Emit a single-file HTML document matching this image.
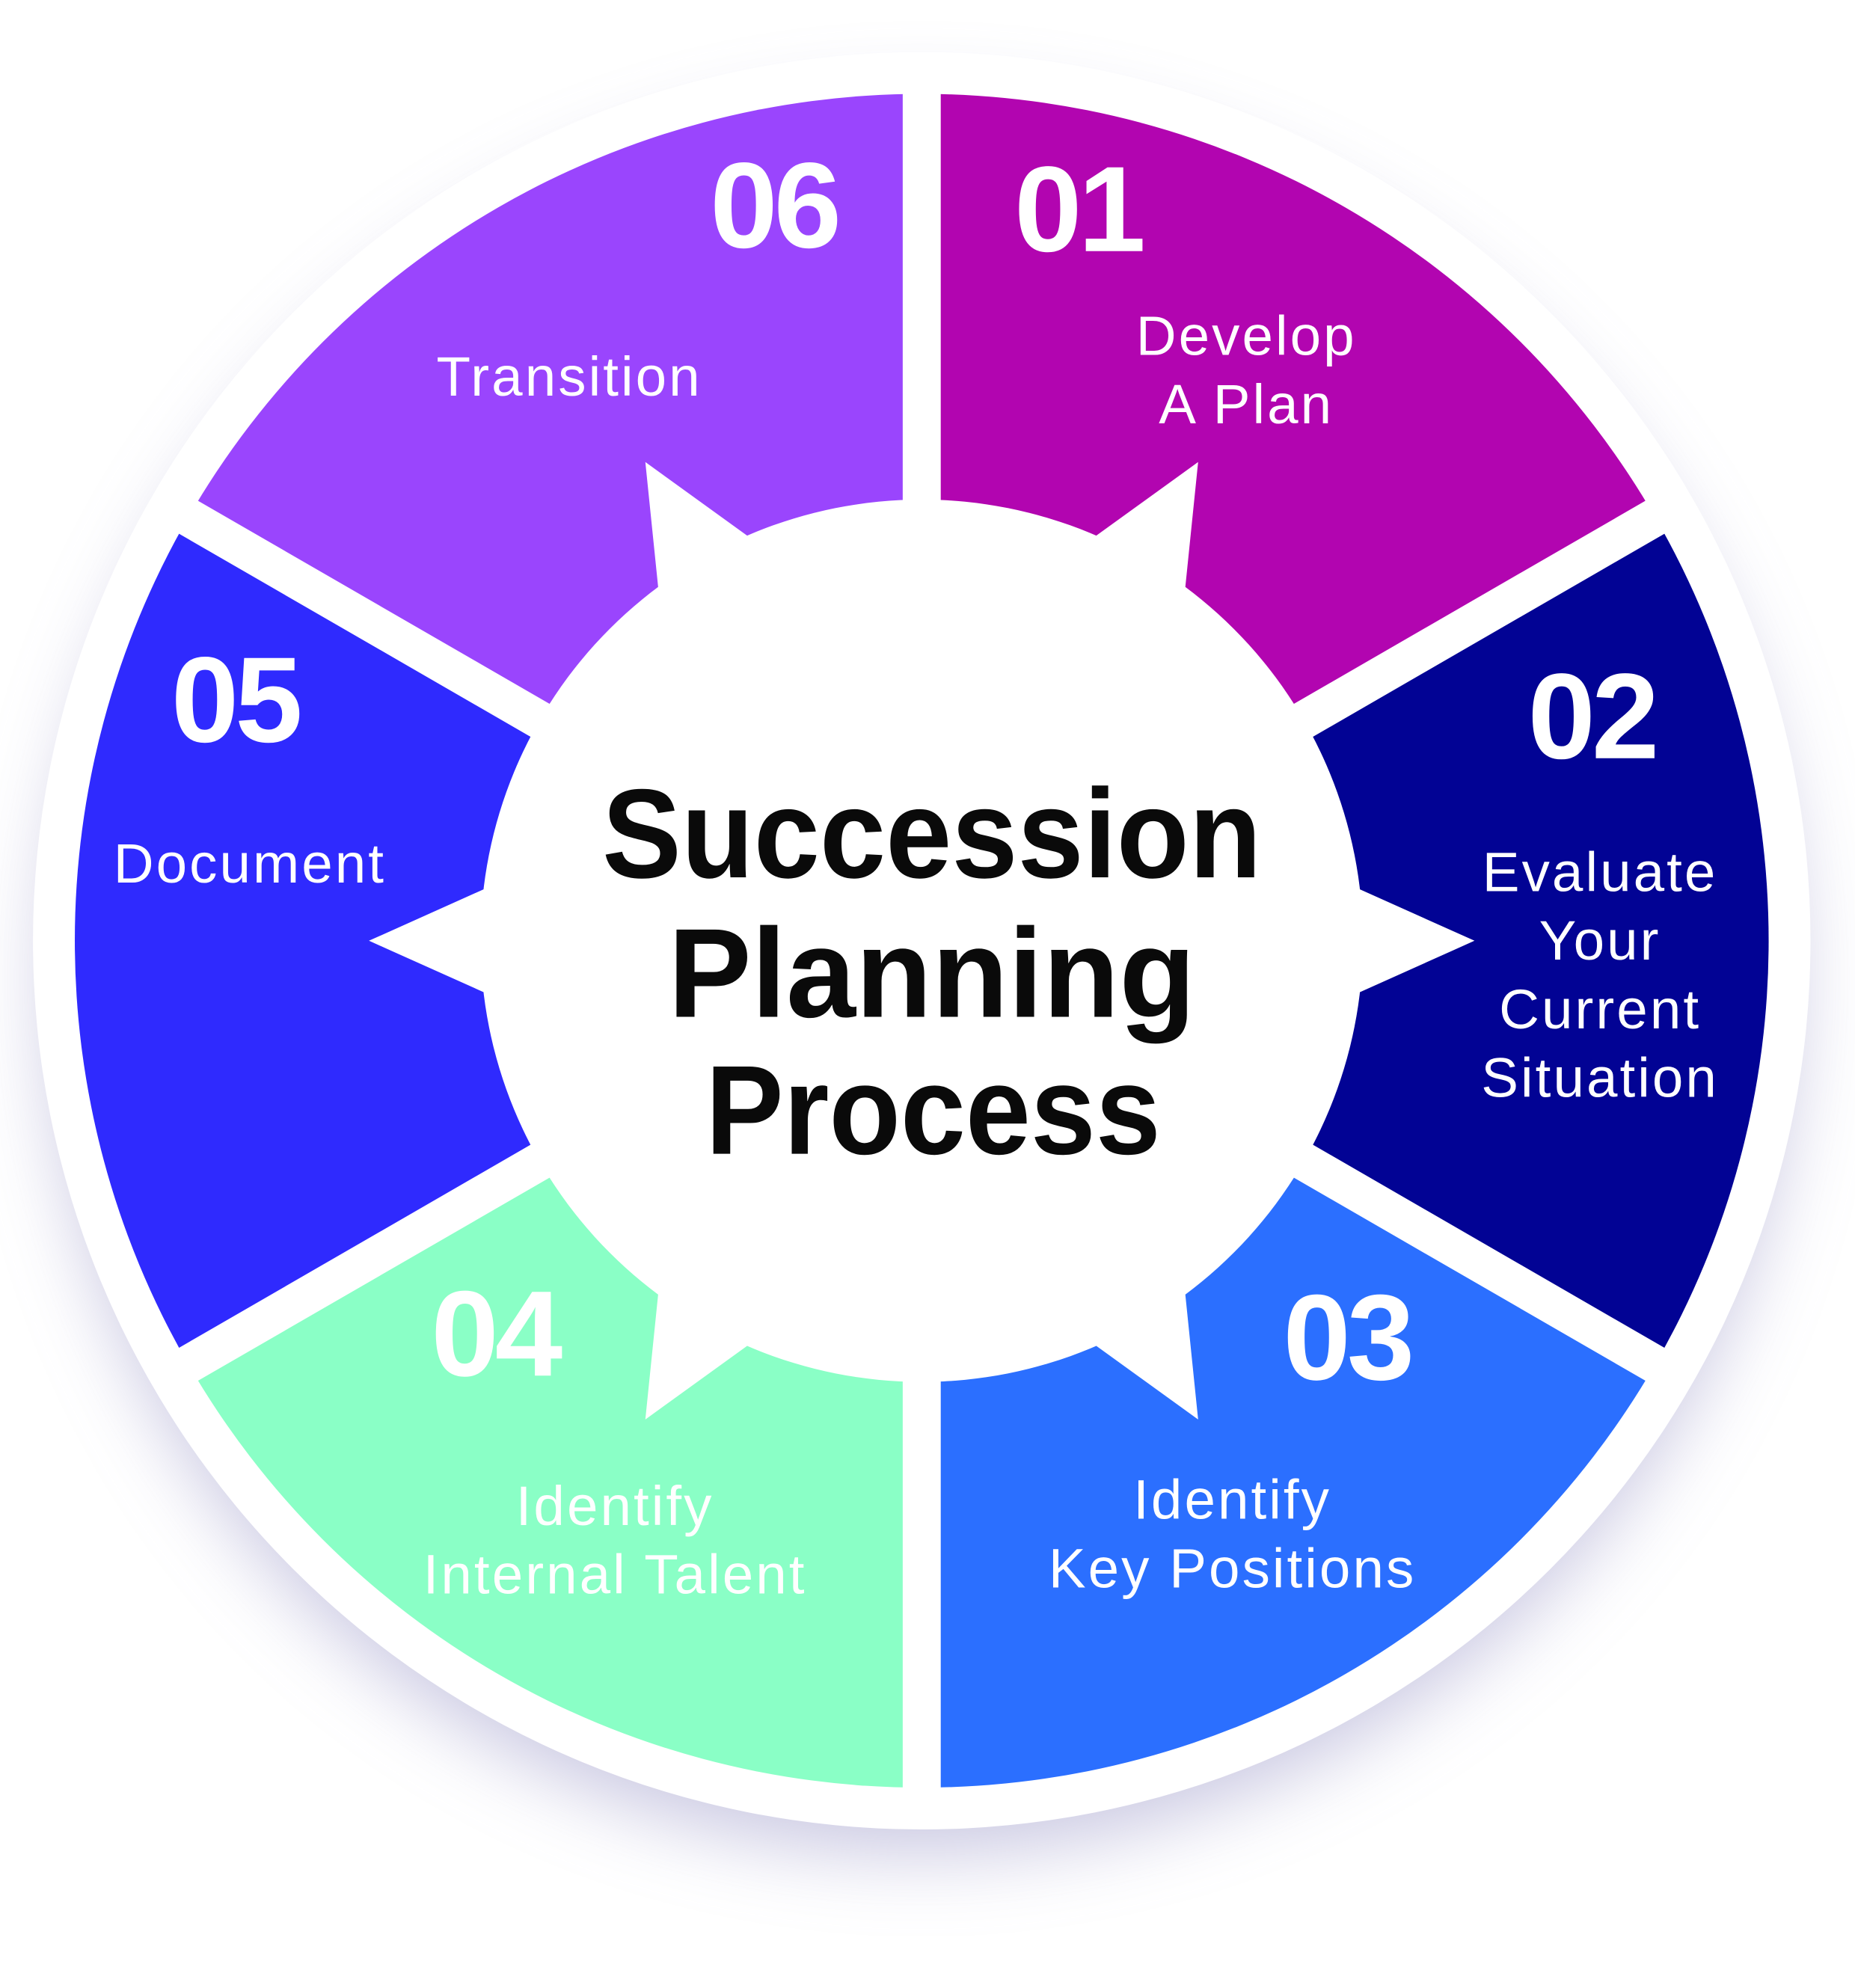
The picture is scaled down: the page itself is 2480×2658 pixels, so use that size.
<!DOCTYPE html>
<html><head><meta charset="utf-8"><style>
html,body{margin:0;padding:0;background:#fff;width:2480px;height:2658px;overflow:hidden}
svg{display:block}
.n{font-family:"Liberation Sans",sans-serif;font-weight:900;fill:#fff;font-size:96px;letter-spacing:-3px}
.l{font-family:"Liberation Sans",sans-serif;fill:#fff;font-size:44px;text-anchor:middle;letter-spacing:1.8px}
.t{font-family:"Liberation Sans",sans-serif;font-weight:900;fill:#0a0a0a;font-size:100px;text-anchor:middle}
</style></head><body>
<svg width="2480" height="2658" viewBox="0 0 1463.1 1568" xmlns="http://www.w3.org/2000/svg">
<defs>
<filter id="sh" x="-20%" y="-20%" width="140%" height="150%">
<feGaussianBlur stdDeviation="30"/>
</filter>
</defs>
<circle cx="727" cy="772" r="690" fill="#b8b6d8" opacity="0.75" filter="url(#sh)"/>
<circle cx="727" cy="742" r="701" fill="#fff"/>
<path d="M727,742 L727,74 A668,668 0 0 1 1305.5,408 Z" fill="#b205b0"/>
<path d="M727,742 L1305.5,408 A668,668 0 0 1 1305.5,1076 Z" fill="#020394"/>
<path d="M727,742 L1305.5,1076 A668,668 0 0 1 727,1410 Z" fill="#2b6fff"/>
<path d="M727,742 L727,1410 A668,668 0 0 1 148.5,1076 Z" fill="#8affc6"/>
<path d="M727,742 L148.5,1076 A668,668 0 0 1 148.5,408 Z" fill="#2f2afe"/>
<path d="M727,742 L148.5,408 A668,668 0 0 1 727,74 Z" fill="#9a45fd"/>
<g stroke="#fff" stroke-width="30">
<line x1="727" y1="50" x2="727" y2="1434"/>
<line x1="1326" y1="396" x2="128" y2="1088"/>
<line x1="1326" y1="1088" x2="128" y2="396"/>
</g>
<g fill="#fff">
<circle cx="727" cy="742" r="348"/>
<polygon points="1052.6,692.5 1163,742 1052.6,791.5"/>
<polygon points="1052.6,692.5 1163,742 1052.6,791.5" transform="rotate(60 727 742)"/>
<polygon points="1052.6,692.5 1163,742 1052.6,791.5" transform="rotate(120 727 742)"/>
<polygon points="1052.6,692.5 1163,742 1052.6,791.5" transform="rotate(180 727 742)"/>
<polygon points="1052.6,692.5 1163,742 1052.6,791.5" transform="rotate(240 727 742)"/>
<polygon points="1052.6,692.5 1163,742 1052.6,791.5" transform="rotate(300 727 742)"/>
</g>
<text class="n" x="560" y="195">06</text>
<text class="n" x="800" y="198">01</text>
<text class="n" x="1205" y="598">02</text>
<text class="n" x="135" y="585">05</text>
<text class="n" x="340" y="1085">04</text>
<text class="n" x="1012" y="1088">03</text>
<text class="l" x="449" y="312">Transition</text>
<text class="l" x="983" y="280">Develop</text>
<text class="l" x="983" y="334">A Plan</text>
<text class="l" x="197" y="696">Document</text>
<text class="l" x="1262" y="703">Evaluate</text>
<text class="l" x="1262" y="757">Your</text>
<text class="l" x="1262" y="811">Current</text>
<text class="l" x="1262" y="865">Situation</text>
<text class="l" x="972" y="1198">Identify</text>
<text class="l" x="972" y="1252">Key Positions</text>
<text class="l" x="485" y="1203">Identify</text>
<text class="l" x="485" y="1257">Internal Talent</text>
<text class="t" x="735" y="692" textLength="520" lengthAdjust="spacingAndGlyphs">Succession</text>
<text class="t" x="735" y="802" textLength="416" lengthAdjust="spacingAndGlyphs">Planning</text>
<text class="t" x="736" y="910" textLength="359" lengthAdjust="spacingAndGlyphs">Process</text>
</svg>
</body></html>
